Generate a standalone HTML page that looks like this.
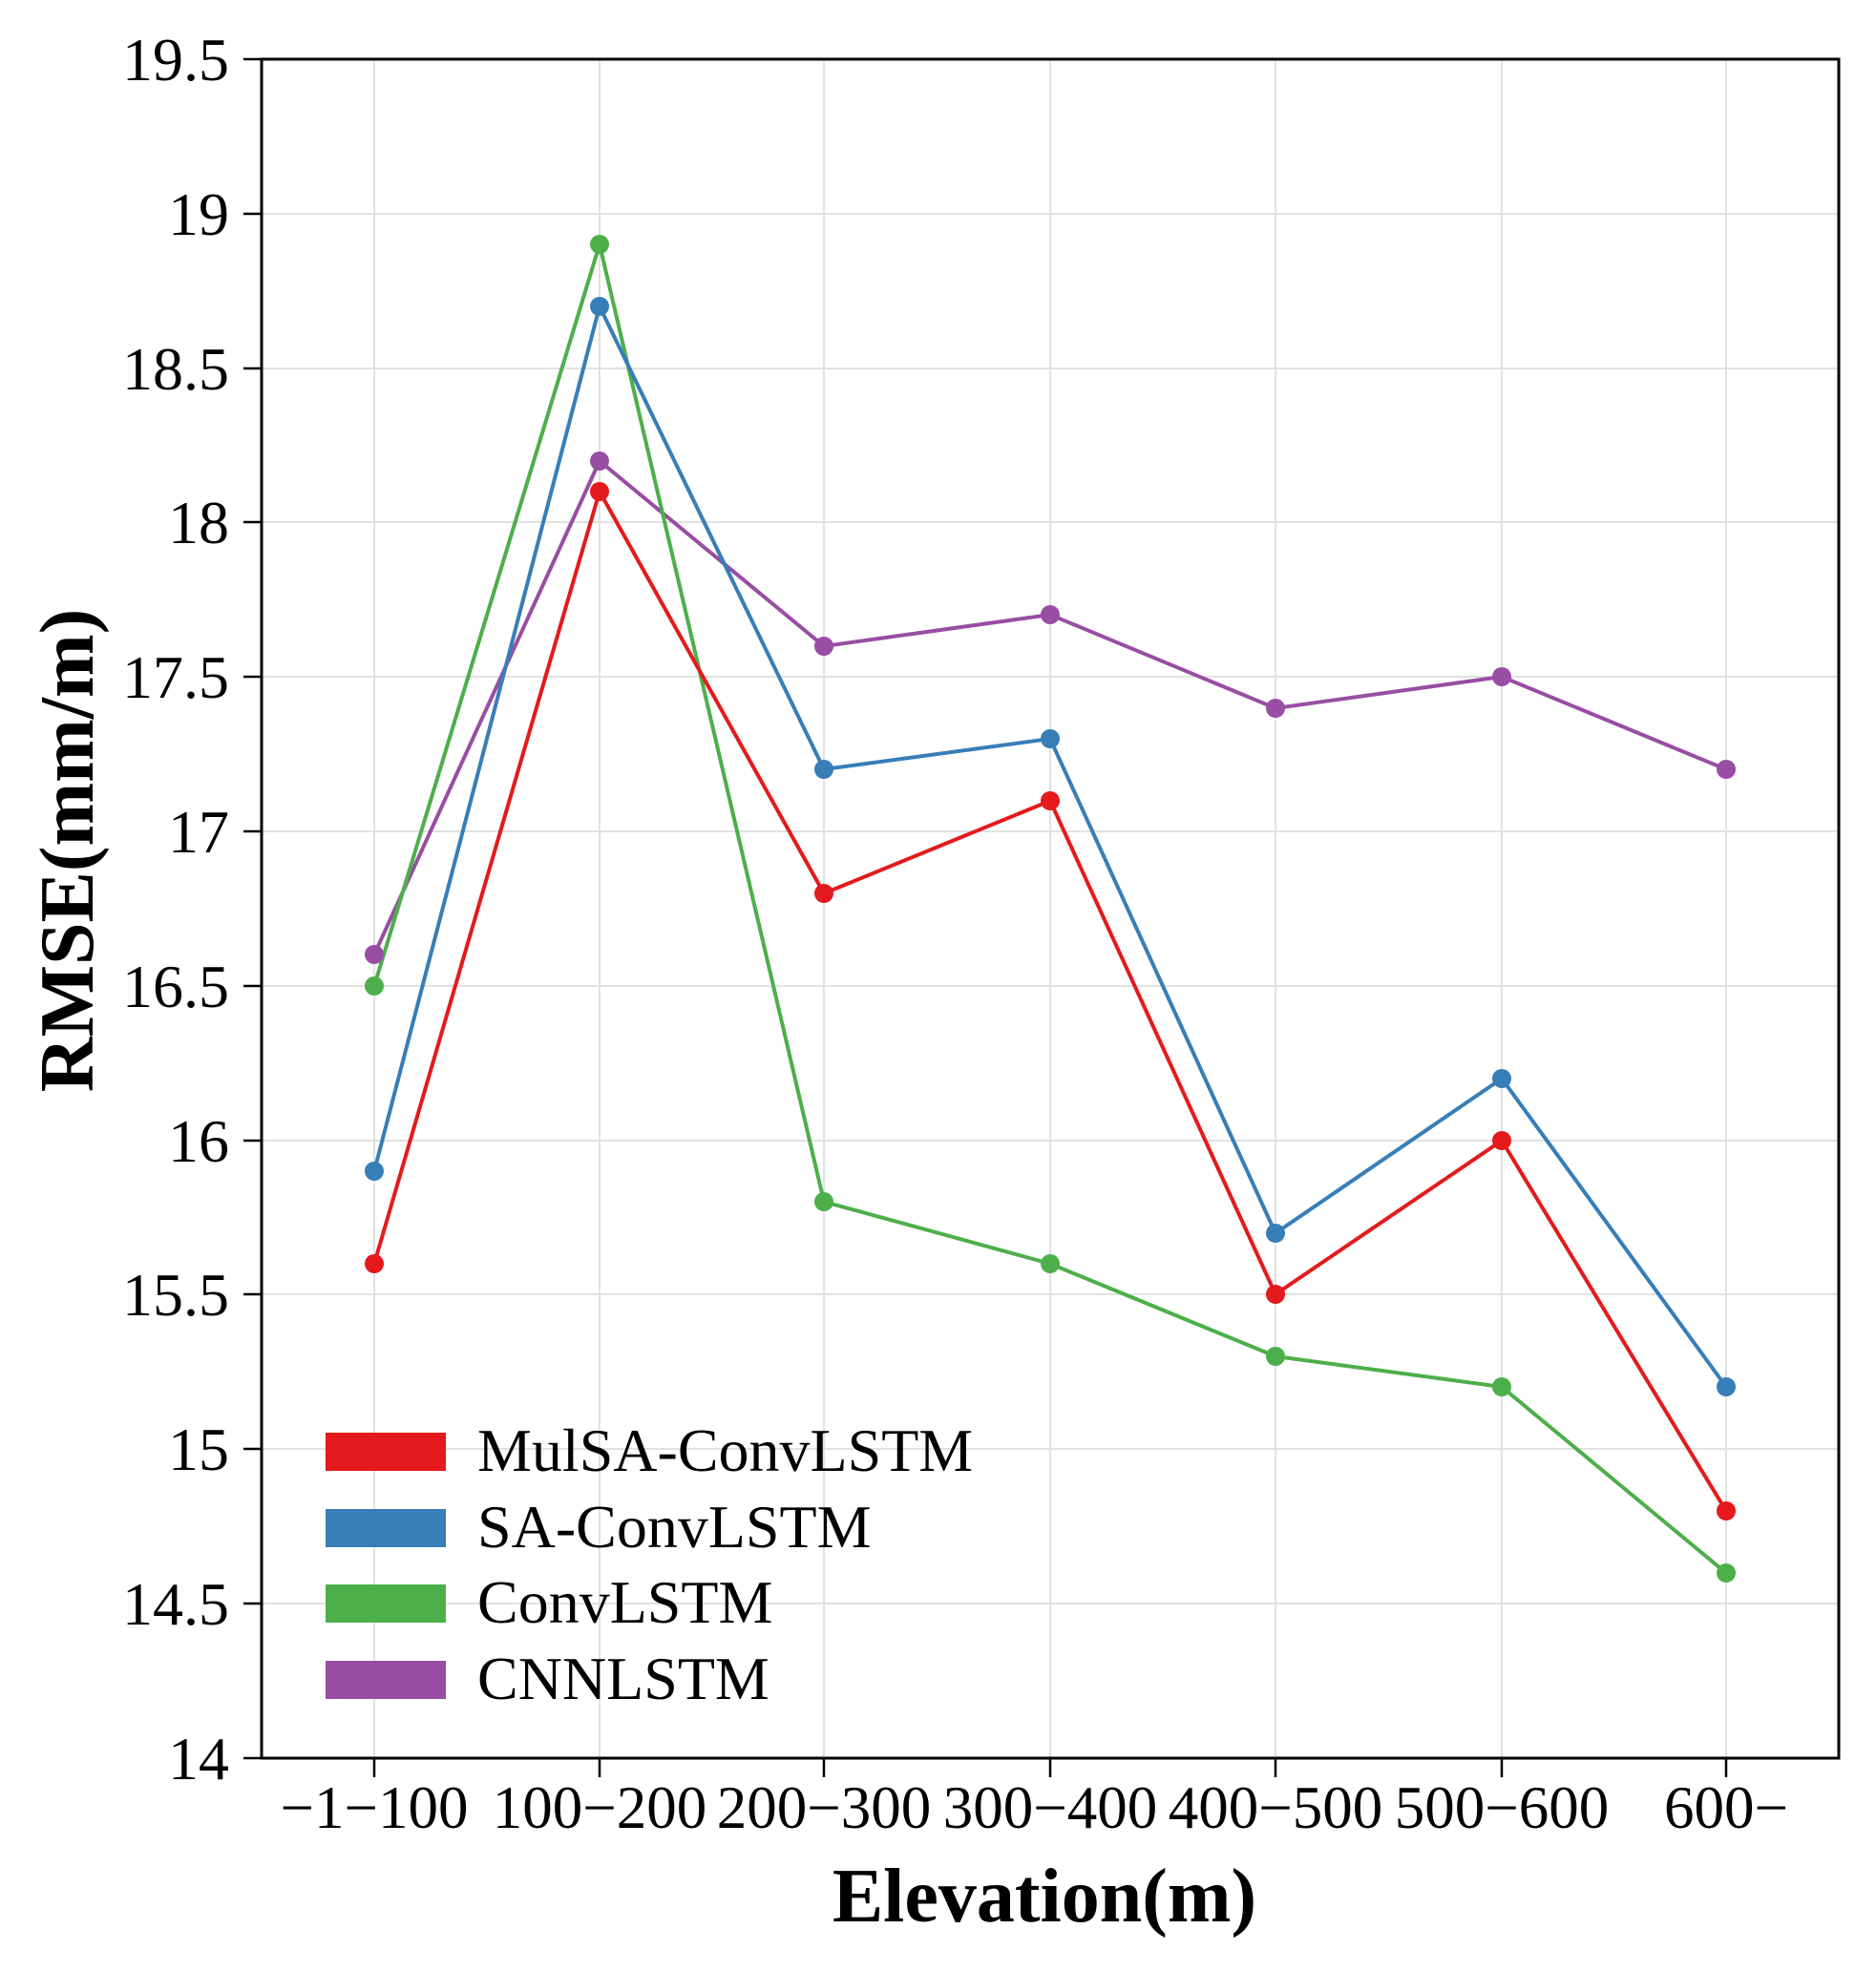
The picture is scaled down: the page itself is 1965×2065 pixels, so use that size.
<!DOCTYPE html>
<html><head><meta charset="utf-8"><style>
html,body{margin:0;padding:0;background:#fff;}
svg{display:block;}
text{font-family:"Liberation Serif",serif;fill:#000;}
</style></head><body>
<svg width="1965" height="2065" viewBox="0 0 1965 2065" xmlns="http://www.w3.org/2000/svg">
<rect width="1965" height="2065" fill="#fff"/>
<g stroke="#e2e2e2" stroke-width="2">
<line x1="392" y1="62" x2="392" y2="1842"/><line x1="628" y1="62" x2="628" y2="1842"/><line x1="863" y1="62" x2="863" y2="1842"/><line x1="1100" y1="62" x2="1100" y2="1842"/><line x1="1336" y1="62" x2="1336" y2="1842"/><line x1="1573" y1="62" x2="1573" y2="1842"/><line x1="1808" y1="62" x2="1808" y2="1842"/>
<line x1="274" y1="224" x2="1926" y2="224"/><line x1="274" y1="386" x2="1926" y2="386"/><line x1="274" y1="547" x2="1926" y2="547"/><line x1="274" y1="709" x2="1926" y2="709"/><line x1="274" y1="871" x2="1926" y2="871"/><line x1="274" y1="1033" x2="1926" y2="1033"/><line x1="274" y1="1195" x2="1926" y2="1195"/><line x1="274" y1="1356" x2="1926" y2="1356"/><line x1="274" y1="1518" x2="1926" y2="1518"/><line x1="274" y1="1680" x2="1926" y2="1680"/>
</g>
<rect x="274" y="62" width="1652" height="1780" fill="none" stroke="#000" stroke-width="3"/>
<g stroke="#000" stroke-width="2.5">
<line x1="255" y1="62" x2="274" y2="62"/><line x1="255" y1="224" x2="274" y2="224"/><line x1="255" y1="386" x2="274" y2="386"/><line x1="255" y1="547" x2="274" y2="547"/><line x1="255" y1="709" x2="274" y2="709"/><line x1="255" y1="871" x2="274" y2="871"/><line x1="255" y1="1033" x2="274" y2="1033"/><line x1="255" y1="1195" x2="274" y2="1195"/><line x1="255" y1="1356" x2="274" y2="1356"/><line x1="255" y1="1518" x2="274" y2="1518"/><line x1="255" y1="1680" x2="274" y2="1680"/><line x1="255" y1="1842" x2="274" y2="1842"/>
<line x1="392" y1="1842" x2="392" y2="1862"/><line x1="628" y1="1842" x2="628" y2="1862"/><line x1="863" y1="1842" x2="863" y2="1862"/><line x1="1100" y1="1842" x2="1100" y2="1862"/><line x1="1336" y1="1842" x2="1336" y2="1862"/><line x1="1573" y1="1842" x2="1573" y2="1862"/><line x1="1808" y1="1842" x2="1808" y2="1862"/>
</g>
<g font-size="64" text-anchor="end">
<text x="240" y="84">19.5</text><text x="240" y="246">19</text><text x="240" y="408">18.5</text><text x="240" y="569">18</text><text x="240" y="731">17.5</text><text x="240" y="893">17</text><text x="240" y="1055">16.5</text><text x="240" y="1217">16</text><text x="240" y="1378">15.5</text><text x="240" y="1540">15</text><text x="240" y="1702">14.5</text><text x="240" y="1864">14</text>
</g>
<g font-size="63" text-anchor="middle">
<text x="392" y="1915">−1−100</text><text x="628" y="1915">100−200</text><text x="863" y="1915">200−300</text><text x="1100" y="1915">300−400</text><text x="1336" y="1915">400−500</text><text x="1573" y="1915">500−600</text><text x="1808" y="1915">600−</text>
</g>
<text x="1094" y="2013" font-size="80" font-weight="bold" text-anchor="middle">Elevation(m)</text>
<text transform="translate(97,891) rotate(-90)" font-size="80" font-weight="bold" text-anchor="middle">RMSE(mm/m)</text>
<g fill="none" stroke-width="4">
<polyline stroke="#984ea3" points="392,1000 628,483 863,677 1100,644 1336,742 1573,709 1808,806"/>
<polyline stroke="#4daf4a" points="392,1033 628,256 863,1259 1100,1324 1336,1421 1573,1453 1808,1648"/>
<polyline stroke="#377eb8" points="392,1227 628,321 863,806 1100,774 1336,1292 1573,1130 1808,1453"/>
<polyline stroke="#e41a1c" points="392,1324 628,515 863,936 1100,839 1336,1356 1573,1195 1808,1583"/>
</g>
<g fill="#984ea3"><circle cx="392" cy="1000" r="10"/><circle cx="628" cy="483" r="10"/><circle cx="863" cy="677" r="10"/><circle cx="1100" cy="644" r="10"/><circle cx="1336" cy="742" r="10"/><circle cx="1573" cy="709" r="10"/><circle cx="1808" cy="806" r="10"/></g>
<g fill="#4daf4a"><circle cx="392" cy="1033" r="10"/><circle cx="628" cy="256" r="10"/><circle cx="863" cy="1259" r="10"/><circle cx="1100" cy="1324" r="10"/><circle cx="1336" cy="1421" r="10"/><circle cx="1573" cy="1453" r="10"/><circle cx="1808" cy="1648" r="10"/></g>
<g fill="#377eb8"><circle cx="392" cy="1227" r="10"/><circle cx="628" cy="321" r="10"/><circle cx="863" cy="806" r="10"/><circle cx="1100" cy="774" r="10"/><circle cx="1336" cy="1292" r="10"/><circle cx="1573" cy="1130" r="10"/><circle cx="1808" cy="1453" r="10"/></g>
<g fill="#e41a1c"><circle cx="392" cy="1324" r="10"/><circle cx="628" cy="515" r="10"/><circle cx="863" cy="936" r="10"/><circle cx="1100" cy="839" r="10"/><circle cx="1336" cy="1356" r="10"/><circle cx="1573" cy="1195" r="10"/><circle cx="1808" cy="1583" r="10"/></g>
<rect x="341" y="1501" width="126" height="40" fill="#e41a1c"/>
<rect x="341" y="1581" width="126" height="40" fill="#377eb8"/>
<rect x="341" y="1660" width="126" height="40" fill="#4daf4a"/>
<rect x="341" y="1740" width="126" height="40" fill="#984ea3"/>
<g font-size="64">
<text x="500" y="1541">MulSA-ConvLSTM</text>
<text x="500" y="1621">SA-ConvLSTM</text>
<text x="500" y="1700">ConvLSTM</text>
<text x="500" y="1780">CNNLSTM</text>
</g>
</svg>
</body></html>
